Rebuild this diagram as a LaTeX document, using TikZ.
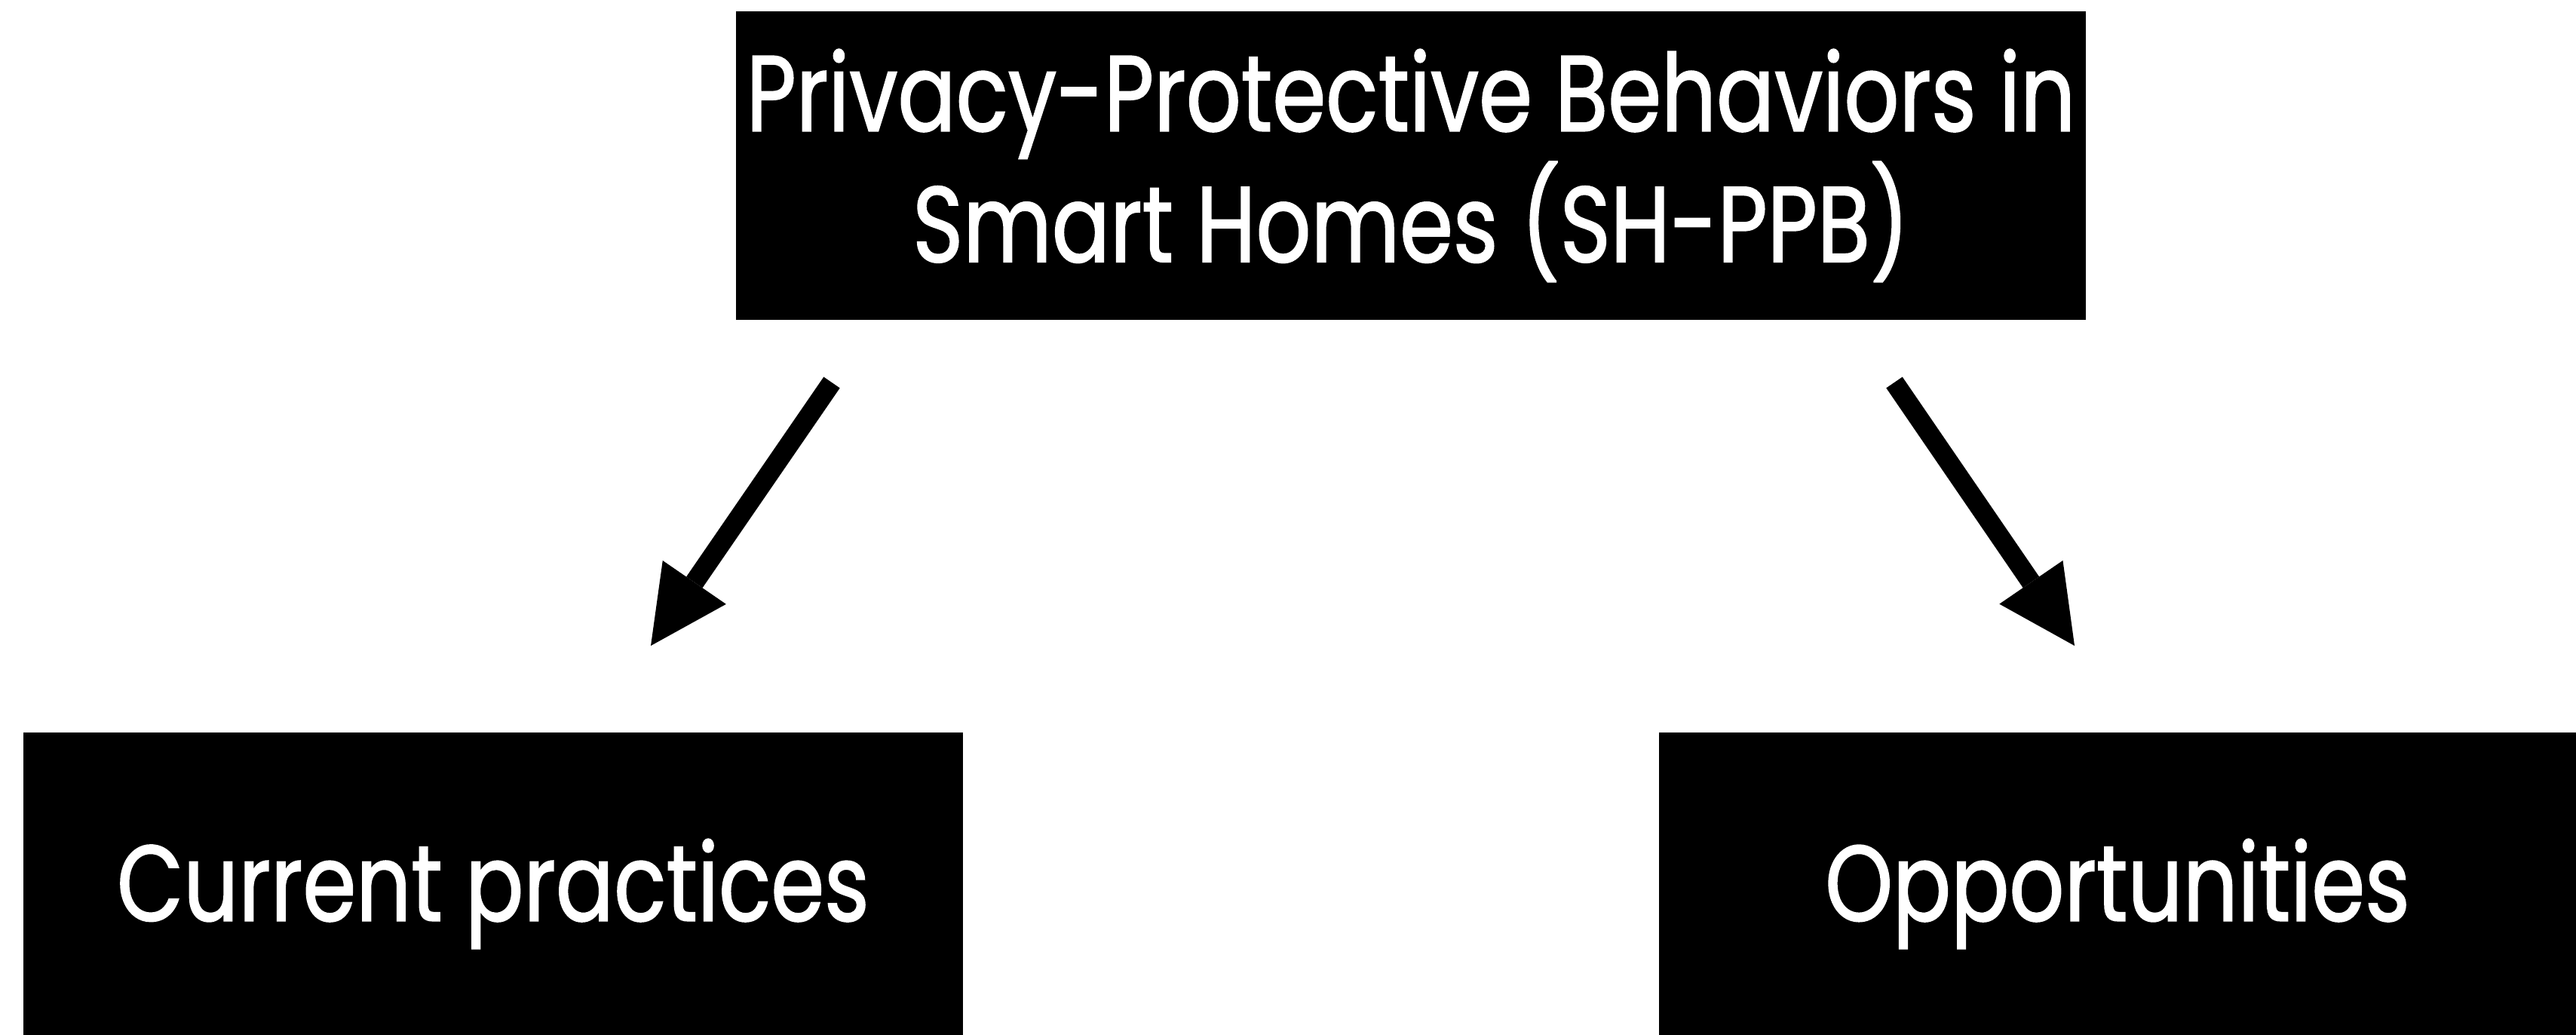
\documentclass[tikz,border=0pt]{standalone}
\usepackage{fontspec}
\setmainfont{Poppins}[FakeStretch=0.80,FakeBold=1.2]
\usetikzlibrary{arrows.meta}
\begin{document}
\begin{tikzpicture}[
  box/.style={fill=black,text=white,inner sep=0pt,font=\fontsize{40.6}{47.5}\selectfont},
  arr/.style={line width=2.6mm,-{Triangle[length=10.2mm,width=10.2mm,line width=0pt]}}
]
\useasboundingbox (0,0) rectangle (34.16,-13.72);
\node[box,minimum width=17.90cm,minimum height=4.09cm,align=center] (top) at (18.71,-2.195) {Privacy-Protective Behaviors in\\Smart Homes (SH-PPB)};
\node[box,minimum width=12.46cm,minimum height=4.01cm,text height=28pt,text depth=0pt] (cur) at (6.54,-11.715) {Current practices};
\node[box,minimum width=12.16cm,minimum height=4.01cm,text height=28pt,text depth=0pt] (opp) at (28.08,-11.715) {Opportunities};
% arrows
\coordinate (s1) at (11.03,-5.07); \coordinate (t1) at (8.63,-8.56);
\coordinate (s2) at (25.12,-5.07); \coordinate (t2) at (27.51,-8.56);
\draw[arr] (s1) -- (t1);
\draw[arr] (s2) -- (t2);
\end{tikzpicture}
\end{document}
